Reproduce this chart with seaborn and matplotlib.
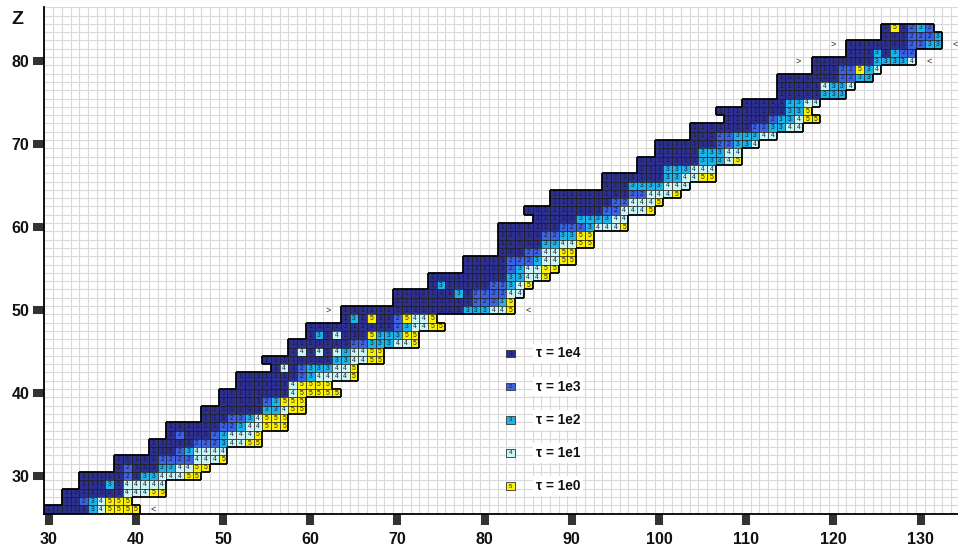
import numpy as np
import pandas as pd
import matplotlib
matplotlib.use("Agg")
import matplotlib.pyplot as plt
from matplotlib.colors import ListedColormap
from matplotlib.collections import LineCollection
from matplotlib.patches import Rectangle
import seaborn as sns

# ---- data: one row per proton number Z ----
z_rows = list(range(26, 85))
# neutron number N of the first nuclide drawn in each row
n_first = [30, 32, 32, 34, 34, 38, 38, 42, 42, 44,
           44, 48, 48, 50, 50, 52, 52, 56, 55, 58,
           58, 60, 60, 64, 64, 70, 70, 74, 74, 78,
           78, 82, 82, 82, 82, 86, 85, 88, 88, 94,
           94, 98, 98, 100, 100, 104, 104, 108, 107, 110,
           114, 114, 114, 118, 118, 122, 122, 126, 126]
# half-life class of each nuclide along the row (1 = tau 1e4 ... 5 = tau 1e0)
row_classes = [
    "11111345555",            # Z=26
    "11234555",               # Z=27
    "111111144455",           # Z=28
    "1113144444",             # Z=29
    "11111213344455",         # Z=30
    "12111334455",            # Z=31
    "1111122224445",          # Z=32
    "111234444",              # Z=33
    "1111122234455",          # Z=34
    "12111234445",            # Z=35
    "11111122344555",         # Z=36
    "1112234555",             # Z=37
    "111111133455",           # Z=38
    "1111123555",             # Z=39
    "11111111455555",         # Z=40
    "11111145555",            # Z=41
    "11111112344445",         # Z=42
    "1412333445",             # Z=43
    "11111111334455",         # Z=44
    "14141434455",            # Z=45
    "111111122333445",        # Z=46
    "1314111533355",          # Z=47
    "1111111111234455",       # Z=48
    "13151125445",            # Z=49
    "11111111111111333445",   # Z=50
    "11111111122235",         # Z=51
    "111111131222244",        # Z=52
    "131111122345",           # Z=53
    "11111111133445",         # Z=54
    "11111234455",            # Z=55
    "1111122234455",          # Z=56
    "111224455",              # Z=57
    "11111334455",            # Z=58
    "11111223355",            # Z=59
    "111111122234445",        # Z=60
    "11111333344",            # Z=61
    "111111111224445",        # Z=62
    "1111111224445",          # Z=63
    "111111111224445",        # Z=64
    "1113333444",             # Z=65
    "1111111334455",          # Z=66
    "111333444",              # Z=67
    "111111133345",           # Z=68
    "1111133344",             # Z=69
    "111111122334",           # Z=70
    "1112233344",             # Z=71
    "1111111223344",          # Z=72
    "11111233455",            # Z=73
    "11111111335",            # Z=74
    "111113344",              # Z=75
    "11111333",               # Z=76
    "111114334",              # Z=77
    "11111112233",            # Z=78
    "11122534",               # Z=79
    "111111133334",           # Z=80
    "11131322",               # Z=81
    "11111112233",            # Z=82
    "1112223",                # Z=83
    "151232",                 # Z=84
]

# small arrow marks beside some rows
mark_n = [42, 62, 85, 116, 131, 120, 134]
mark_z = [26, 50, 50, 80, 80, 82, 82]
mark_txt = ["<", ">", "<", ">", "<", ">", "<"]

class_labels = ["\u03c4 = 1e4", "\u03c4 = 1e3", "\u03c4 = 1e2", "\u03c4 = 1e1", "\u03c4 = 1e0"]
class_colors = ["#2c2f8e", "#3d63e2", "#1db4e9", "#c9f5f6", "#fbf100"]

x_ticks = list(range(30, 131, 10))
y_ticks = list(range(30, 81, 10))

# ---- build the N x Z table ----
n_cols = np.arange(30, 135)
z_index = np.arange(86, 25, -1)
table = pd.DataFrame(np.nan, index=z_index, columns=n_cols)
for z, n0, codes in zip(z_rows, n_first, row_classes):
    for k, c in enumerate(codes):
        table.loc[z, n0 + k] = int(c)

sns.set_style("white")
plt.rcParams["font.family"] = ["Liberation Sans", "DejaVu Sans"]

fig = plt.figure(figsize=(9.58, 5.49), dpi=100)
ax = fig.add_axes([0.04635, 0.0645, 0.95365, 0.9223])

# light cell grid behind everything
nx, ny = len(n_cols), len(z_index)
ax.vlines(np.arange(0, nx + 1), 0, ny, color="#d9d9d9", lw=0.8, zorder=0)
ax.hlines(np.arange(0, ny + 1), 0, nx, color="#d9d9d9", lw=0.8, zorder=0)

cmap = ListedColormap(class_colors)
sns.heatmap(table, ax=ax, cmap=cmap, vmin=0.5, vmax=5.5, cbar=False,
            mask=table.isna(), annot=True, fmt=".0f",
            annot_kws=dict(size=4.8, color="#1a1a36"),
            linewidths=0, xticklabels=False, yticklabels=False)

# cell borders: thin between neighbours, heavy along the outline
occ = ~table.isna().values
thin, thick = [], []
for i in range(ny):
    for j in range(nx + 1):
        a = occ[i, j - 1] if j > 0 else False
        b = occ[i, j] if j < nx else False
        if a and b:
            thin.append([(j, i), (j, i + 1)])
        elif a or b:
            thick.append([(j, i), (j, i + 1)])
for i in range(ny + 1):
    for j in range(nx):
        a = occ[i - 1, j] if i > 0 else False
        b = occ[i, j] if i < ny else False
        if a and b:
            thin.append([(j, i), (j + 1, i)])
        elif a or b:
            thick.append([(j, i), (j + 1, i)])
ax.add_collection(LineCollection(thin, colors="#1e1e1e", linewidths=0.55, zorder=3))
ax.add_collection(LineCollection(thick, colors="black", linewidths=1.3, zorder=4))


def to_x(n):
    return n - 29.5


def to_y(z):
    return 86.5 - z


for n, z, t in zip(mark_n, mark_z, mark_txt):
    ax.text(to_x(n), to_y(z), t, ha="center", va="center", fontsize=6.5,
            color="#222222", zorder=5)

# legend of half-life classes
for k, (lab, col) in enumerate(zip(class_labels, class_colors)):
    zc = 44.8 - 4.0 * k
    ax.add_patch(Rectangle((to_x(83) - 0.5, to_y(zc) - 0.45), 1.0, 0.9,
                           facecolor=col, edgecolor="#333333", lw=0.6, zorder=5))
    ax.text(to_x(83), to_y(zc), str(k + 1), ha="center", va="center",
            fontsize=4.4, color="#1a1a36", zorder=6)
    ax.text(to_x(85.9), to_y(zc), lab, ha="left", va="center",
            fontsize=9.8, fontweight="bold", color="#111111", zorder=6,
            bbox=dict(boxstyle="square,pad=0.2", facecolor="white",
                      edgecolor="none"))

ax.set_xlim(0, 104.8)
ax.set_ylim(ny, 0)

ax.set_xticks([to_x(v) for v in x_ticks])
ax.set_xticklabels([str(v) for v in x_ticks], fontsize=11.5, fontweight="bold")
ax.set_yticks([to_y(v) for v in y_ticks])
ax.set_yticklabels([str(v) for v in y_ticks], fontsize=11.5, fontweight="bold",
                   rotation=0)
ax.tick_params(axis="both", direction="out", length=8, width=5.8,
               color="#333333", labelcolor="#111111")
ax.tick_params(axis="x", bottom=True, pad=5)
ax.tick_params(axis="y", left=True, pad=3)

for side in ["left", "bottom"]:
    ax.spines[side].set_visible(True)
    ax.spines[side].set_color("black")
    ax.spines[side].set_linewidth(1.3)
for side in ["top", "right"]:
    ax.spines[side].set_visible(False)

fig.text(17 / 958, 1 - 19 / 549, "Z", ha="center", va="center",
         fontsize=14, fontweight="bold", color="#111111")

fig.savefig("out.png", dpi=100, facecolor="white")
